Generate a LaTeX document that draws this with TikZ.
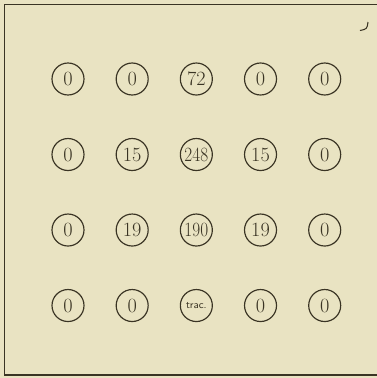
\documentclass[tikz,border=0pt]{standalone}
\usepackage{tikz}
\usetikzlibrary{positioning}
\definecolor{paper}{RGB}{233,227,194}
\definecolor{ink}{RGB}{58,52,36}

\begin{document}
\begin{tikzpicture}[x=0.03cm,y=-0.03cm,every node/.style={font=\LARGE,align=center,text=ink}]
  \tikzset{cell/.style={draw=ink,line width=1pt,circle,inner sep=0pt,minimum size=0.96cm},
           colgap/.style={right=0.93cm of #1},
           rowgap/.style={below=1.27cm of #1}}
  % paper and frame
  \fill[paper] (0,0) rectangle (377,378);
  \useasboundingbox (0,0) rectangle (377,378);
  \draw[ink,line width=1pt] (377,4.5) -- (4.5,4.5) -- (4.5,375) -- (377,375);
  \draw[ink,line width=0.9pt] (368,22) .. controls (367,29) .. (360,30.5);
  % first row
  \node[cell] (r1c1) at (68,79) {0};
  \node[cell,colgap=r1c1] (r1c2) {0};
  \node[cell,colgap=r1c2] (r1c3) {72};
  \node[cell,colgap=r1c3] (r1c4) {0};
  \node[cell,colgap=r1c4] (r1c5) {0};
  % second row
  \node[cell,rowgap=r1c1] (r2c1) {0};
  \node[cell,colgap=r2c1] (r2c2) {15};
  \node[cell,colgap=r2c2] (r2c3) {\scalebox{0.85}[1]{248}};
  \node[cell,colgap=r2c3] (r2c4) {15};
  \node[cell,colgap=r2c4] (r2c5) {0};
  % third row
  \node[cell,rowgap=r2c1] (r3c1) {0};
  \node[cell,colgap=r3c1] (r3c2) {19};
  \node[cell,colgap=r3c2] (r3c3) {\scalebox{0.85}[1]{190}};
  \node[cell,colgap=r3c3] (r3c4) {19};
  \node[cell,colgap=r3c4] (r3c5) {0};
  % fourth row
  \node[cell,rowgap=r3c1] (r4c1) {0};
  \node[cell,colgap=r4c1] (r4c2) {0};
  \node[cell,colgap=r4c2,font=\small\sffamily] (r4c3) {trac.};
  \node[cell,colgap=r4c3] (r4c4) {0};
  \node[cell,colgap=r4c4] (r4c5) {0};
\end{tikzpicture}
\end{document}
